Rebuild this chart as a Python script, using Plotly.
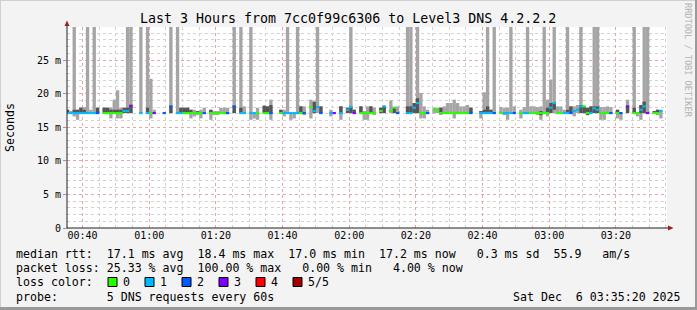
import plotly.graph_objects as go
from datetime import datetime, timedelta

N = None

# ---- data: one step per minute, first step starts 00:35 ----
start_time = datetime(2025, 12, 6, 0, 35)

# median rtt (ms) per step, None = no reply
med = [
    17.1,
    17.1, 17.1, 17.1, 17.1, 17.1, 17.1, 17.1, 17.1, 17.1, N,
    17.1, 17.1, 17.1, 17.1, 17.1, 17.1, 17.4, 17.4, 18.2, N,
    N, 17.1, N, 17.1, 17.1, 17.1, N, N, 17.1, N,
    18.1, N, 17.1, 17.1, 17.1, 17.1, 17.1, 17.1, 17.1, 17.1,
    17.1, N, 17.1, 17.1, 17.1, 17.1, 17.1, 17.1, N, 18.1,
    N, 17.1, 17.1, N, 17.1, 17.1, 17.1, N, 17.1, 17.1,
    17.1, N, N, 17.1, 17.1, 17.1, 17.1, 17.1, 17.1, 17.1,
    17.1, N, 18.0, 17.4, 18.0, 17.1, N, N, 17.1, 17.1,
    N, 17.1, N, 17.6, 18.0, 17.1, N, 17.1, 17.1, 17.1,
    17.1, 17.1, N, 17.4, 18.1, N, 17.4, 17.9, 17.1, N,
    N, 17.1, 17.1, 17.9, 18.6, 17.1, 17.1, 17.1, N, 17.6,
    17.6, 17.1, 17.1, 17.1, 17.1, 17.1, 17.1, 17.1, 17.1, 17.1,
    17.1, N, N, 17.1, 17.1, 17.1, 17.1, 17.1, N, 17.1,
    17.1, 17.1, 17.1, 17.1, N, 17.1, 17.1, 17.1, 17.1, 17.1,
    17.1, 17.1, 17.1, 17.1, 17.9, 18.6, 17.1, 17.1, 17.1, 17.1,
    17.1, 17.4, 17.6, 18.1, 18.1, 17.1, 17.1, 17.8, 17.6, 17.1,
    17.1, 17.1, 17.1, N, 17.1, 17.1, N, 18.1, N, 17.1,
    17.1, 17.6, 18.1, 17.1, N, 17.1, 17.1, 17.4, N, N,
]

# lost pings per step (of 5)
loss = [
    1,
    1, 1, 1, 1, 1, 1, 1, 1, 2, 5,
    0, 0, 0, 0, 0, 0, 1, 1, 3, 5,
    5, 1, 5, 1, 0, 3, 5, 5, 2, 5,
    2, 5, 1, 1, 0, 0, 0, 0, 0, 0,
    2, 5, 0, 0, 0, 0, 0, 2, 5, 2,
    5, 1, 1, 5, 1, 1, 0, 5, 0, 0,
    2, 5, 5, 0, 1, 1, 1, 1, 1, 0,
    2, 5, 0, 1, 1, 2, 5, 5, 1, 3,
    5, 1, 5, 1, 1, 3, 5, 0, 0, 0,
    0, 0, 5, 0, 1, 5, 0, 0, 2, 5,
    5, 1, 1, 1, 1, 0, 0, 2, 5, 0,
    0, 0, 0, 0, 0, 0, 0, 0, 0, 0,
    2, 5, 5, 1, 1, 1, 1, 2, 5, 0,
    1, 1, 1, 2, 5, 0, 1, 1, 0, 0,
    0, 0, 0, 0, 1, 1, 0, 0, 1, 1,
    2, 1, 1, 1, 0, 0, 1, 1, 1, 0,
    0, 0, 2, 5, 0, 2, 5, 3, 5, 0,
    0, 1, 1, 3, 5, 0, 0, 1, 5, 5,
]

# outer smoke (min .. max rtt, ms); 40 = beyond the top of the graph
smoke_lo = [
    17.1,
    17.1, 16.6, 16.1, 17.1, 17.1, 17.1, 17.1, 17.1, 17.1, N,
    17.1, 17.1, 16.3, 17.1, 16.3, 16.3, 17.1, 17.1, 17.1, N,
    N, 17.1, N, 17.1, 16.3, 17.1, N, N, N, N,
    17.1, N, 17.1, 17.1, 17.1, 17.1, 16.3, 16.6, 16.8, 16.3,
    17.1, N, 16.1, 16.8, 16.8, 17.1, 17.1, 17.1, N, 17.1,
    N, 17.1, 17.1, N, 16.1, 16.3, 16.1, N, 17.1, 17.1,
    16.1, N, N, 17.1, 16.6, 17.1, 16.1, 16.3, 17.1, 17.1,
    16.8, N, 16.3, 17.1, 17.1, 17.1, N, N, 16.6, N,
    N, 16.1, N, 17.1, 17.1, 17.1, N, 17.1, 16.1, 16.1,
    17.1, 16.8, N, 17.1, 17.1, N, 17.1, 17.1, 17.1, N,
    N, 17.1, 17.1, 17.1, 17.1, 16.3, 16.3, 17.1, N, 17.1,
    17.1, 16.9, 17.1, 17.1, 17.1, 16.3, 17.1, 17.1, 17.1, 17.1,
    17.1, N, N, 16.3, 17.1, 17.1, 17.1, 17.1, N, 17.1,
    16.8, 16.1, 17.1, 17.1, N, 16.3, 17.1, 17.1, 17.1, 17.1,
    16.8, 16.1, 17.1, 16.6, 17.1, 17.1, 17.1, 17.1, 17.1, 17.1,
    17.1, 16.6, 17.1, 17.1, 17.1, 16.8, 17.1, 17.1, 17.1, 16.1,
    16.1, 17.1, 17.1, N, 16.3, 16.1, N, 17.1, N, 17.1,
    16.6, 16.1, 17.1, 17.1, N, 17.1, 16.8, 16.3, N, N,
]
smoke_hi = [
    17.6,
    17.4, 40, 17.6, 17.9, 18.0, 40, 17.6, 40, 17.9, N,
    17.9, 17.9, 17.9, 19.1, 20.5, 17.9, 17.9, 40, 40, N,
    N, 40, N, 40, 22.2, 17.6, N, N, N, N,
    40, N, 40, 17.9, 17.9, 17.9, 17.6, 17.6, 17.4, 17.6,
    17.9, N, 17.6, 17.4, 17.4, 17.9, 17.9, 17.9, N, 40,
    N, 40, 18.1, N, 40, 17.1, 17.9, N, 18.2, 18.1,
    19.1, N, N, 17.6, 17.6, 40, 17.1, 17.1, 40, 18.1,
    18.1, N, 19.1, 18.8, 40, 18.1, N, N, 17.6, N,
    N, 18.1, N, 17.9, 40, 17.6, N, 18.1, 17.4, 18.1,
    18.1, 17.9, N, 17.9, 18.1, N, 19.0, 17.9, 18.1, N,
    N, 40, 40, 18.6, 40, 20.1, 18.1, 17.6, N, 17.9,
    17.9, 17.9, 18.1, 18.6, 18.6, 19.1, 18.6, 18.1, 18.1, 18.3,
    17.9, N, N, 17.4, 20.2, 40, 17.6, 40, N, 18.0,
    17.9, 17.9, 40, 18.1, N, 17.6, 18.0, 40, 18.1, 18.1,
    18.0, 18.1, 40, 19.1, 22.1, 40, 18.1, 18.1, 17.6, 40,
    18.1, 18.1, 18.3, 40, 18.1, 17.9, 18.1, 40, 40, 18.0,
    18.0, 18.1, 18.0, N, 17.6, 17.1, N, 19.1, N, 40,
    17.1, 18.3, 40, 40, N, 17.4, 17.6, 17.6, N, N,
]

# inner (dense) smoke band, ms
dense_lo = [
    17.1,
    N, 17.1, 17.1, 17.1, 17.1, N, N, N, 17.1, N,
    17.1, 17.1, 17.1, 17.1, 17.1, 17.1, 17.1, 17.1, 17.1, N,
    N, N, N, 17.1, N, N, N, N, N, N,
    17.1, N, N, 17.1, 17.1, 17.1, 17.1, N, 17.1, N,
    N, N, 17.1, N, N, N, N, N, N, 17.1,
    N, 17.1, N, N, N, N, N, N, 17.1, 17.1,
    17.1, N, N, 17.1, N, N, N, N, N, 17.1,
    N, N, N, 17.1, N, 17.1, N, N, N, N,
    N, 17.1, N, 17.1, 17.1, 17.1, N, 17.1, N, N,
    17.1, N, N, 17.1, 17.1, N, N, 17.1, N, N,
    N, 17.1, 17.1, 17.1, 17.1, N, N, N, N, N,
    N, 16.9, N, N, N, N, N, N, N, N,
    17.1, N, N, 17.1, 17.1, 17.1, 17.1, N, N, N,
    N, N, N, N, N, N, N, N, N, N,
    N, 16.8, N, 17.1, 17.1, 17.6, N, N, N, 17.1,
    17.1, N, N, 17.1, 17.1, 16.8, 17.1, 17.1, 17.1, N,
    N, N, N, N, 17.1, N, N, 17.1, N, 17.1,
    N, 17.1, 17.1, N, N, 17.1, 17.1, N, N, N,
]
dense_hi = [
    17.6,
    N, 17.6, 17.6, 17.9, 17.6, N, N, N, 17.9, N,
    17.9, 17.9, 17.6, 17.6, 17.6, 17.6, 17.9, 17.9, 18.2, N,
    N, N, N, 17.9, N, N, N, N, N, N,
    18.1, N, N, 17.9, 17.9, 17.9, 17.6, N, 17.4, N,
    N, N, 17.6, N, N, N, N, N, N, 18.1,
    N, 17.9, N, N, N, N, N, N, 18.2, 18.1,
    18.3, N, N, 17.6, N, N, N, N, N, 18.1,
    N, N, N, 18.8, N, 18.1, N, N, N, N,
    N, 18.1, N, 17.9, 18.1, 17.6, N, 18.1, N, N,
    18.1, N, N, 17.9, 18.1, N, N, 17.9, N, N,
    N, 18.1, 18.1, 18.6, 19.3, N, N, N, N, N,
    N, 17.9, N, N, N, N, N, N, N, N,
    17.9, N, N, 17.4, 17.6, 18.1, 17.6, N, N, N,
    N, N, N, N, N, N, N, N, N, N,
    N, 17.4, N, 17.9, 18.6, 18.6, N, N, N, 17.6,
    18.1, N, N, 18.3, 18.1, 17.9, 18.1, 18.1, 18.1, N,
    N, N, N, N, 17.6, N, N, 18.1, N, 17.9,
    N, 18.3, 18.8, N, N, 17.4, 17.6, N, N, N,
]

loss_labels = ["0", "1", "2", "3", "4", "5/5"]
loss_colors = ["#26ff00", "#00b8ff", "#0059ff", "#7e00ff", "#ff0000", "#a10000"]

y_tickvals = [0, 5, 10, 15, 20, 25]
y_ticktext = ["0", "5 m", "10 m", "15 m", "20 m", "25 m"]

title_text = "Last 3 Hours from 7cc0f99c6306 to Level3 DNS 4.2.2.2"
row_rtt = "median rtt:  17.1 ms avg  18.4 ms max  17.0 ms min  17.2 ms now   0.3 ms sd  55.9   am/s"
row_loss = "packet loss: 25.33 % avg  100.00 % max   0.00 % min   4.00 % now"
row_color = "loss color:"
row_probe = "probe:       5 DNS requests every 60s"
stamp = "Sat Dec  6 03:35:20 2025"

# ---- geometry helpers ----
W, H = 697, 310
L, R, T, B = 67, 30, 27, 82
PW, PH = W - L - R, H - T - B


def px(x):
    return (x - L) / PW


def py(y):
    return (H - B - y) / PH


def nb(s):
    return s.replace(" ", "\u00a0")


times = [start_time + timedelta(minutes=i) for i in range(len(med))]
STEP_MS = 60000

fig = go.Figure()


def band(lo, hi, color):
    xs, bs, hs = [], [], []
    for t, a, b in zip(times, lo, hi):
        if a is None or b is None:
            continue
        xs.append(t)
        bs.append(a)
        hs.append(max(b - a, 0.05))
    fig.add_trace(go.Bar(x=xs, y=hs, base=bs, width=STEP_MS, offset=0,
                         marker=dict(color=color, line=dict(width=0)),
                         opacity=1, hoverinfo="skip", showlegend=False))


band(smoke_lo, smoke_hi, "#a5a5a5")
band(dense_lo, dense_hi, "#545454")

mx, mb, mc = [], [], []
for t, m, l in zip(times, med, loss):
    if m is None:
        continue
    mx.append(t)
    mb.append(m - 0.16)
    mc.append(loss_colors[l])
fig.add_trace(go.Bar(x=mx, y=[0.32] * len(mx), base=mb, width=STEP_MS, offset=0,
                     marker=dict(color=mc, line=dict(width=0)), opacity=1,
                     hoverinfo="skip", showlegend=False))

mono = "DejaVu Sans Mono"

fig.update_layout(
    width=W, height=H, autosize=False,
    margin=dict(l=L, r=R, t=T, b=B, pad=0),
    paper_bgcolor="#f3f3f3", plot_bgcolor="#ffffff",
    barmode="overlay", showlegend=False,
    font=dict(family=mono, size=10, color="#000000"),
)

fig.update_xaxes(
    type="date",
    range=[datetime(2025, 12, 6, 0, 35, 20), datetime(2025, 12, 6, 3, 35, 20)],
    tick0="2025-12-06 00:40:00", dtick=20 * 60 * 1000, tickformat="%H:%M",
    showgrid=True, gridcolor="#eba3a3", griddash="dot", gridwidth=1,
    minor=dict(dtick=5 * 60 * 1000, showgrid=True, gridcolor="#d2d2d2", griddash="dot",
               ticks=""),
    ticks="", ticklabelstandoff=0,
    tickfont=dict(family=mono, size=10, color="#000000"),
    showline=False, zeroline=False, fixedrange=True,
)
fig.update_yaxes(
    range=[0, PH / 6.72],
    tickvals=y_tickvals, ticktext=y_ticktext,
    showgrid=True, gridcolor="#eba3a3", griddash="dot", gridwidth=1,
    minor=dict(dtick=1, showgrid=True, gridcolor="#d2d2d2", griddash="dot", ticks=""),
    ticks="outside", ticklen=3, tickcolor="#d08080",
    tickfont=dict(family=mono, size=10, color="#000000"),
    showline=False, zeroline=False, fixedrange=True,
)

shapes = []
# frame
shapes.append(dict(type="line", xref="paper", yref="paper", x0=px(0), x1=px(W), y0=py(0.5), y1=py(0.5),
                   line=dict(color="#cfcfcf", width=1)))
shapes.append(dict(type="line", xref="paper", yref="paper", x0=px(0.5), x1=px(0.5), y0=py(0), y1=py(H),
                   line=dict(color="#cfcfcf", width=1)))
shapes.append(dict(type="line", xref="paper", yref="paper", x0=px(0), x1=px(W), y0=py(H - 1.5), y1=py(H - 1.5),
                   line=dict(color="#9a9a9a", width=3)))
shapes.append(dict(type="line", xref="paper", yref="paper", x0=px(W - 1), x1=px(W - 1), y0=py(0), y1=py(H),
                   line=dict(color="#9a9a9a", width=2)))
# axes
shapes.append(dict(type="line", xref="paper", yref="paper", x0=px(67), x1=px(67), y0=py(228.5), y1=py(24),
                   line=dict(color="#202020", width=1)))
shapes.append(dict(type="line", xref="paper", yref="paper", x0=px(66.5), x1=px(670), y0=py(228), y1=py(228),
                   line=dict(color="#202020", width=1)))
shapes.append(dict(type="path", xref="paper", yref="paper",
                   path=f"M {px(64.5)},{py(26)} L {px(69.5)},{py(26)} L {px(67)},{py(20.5)} Z",
                   fillcolor="#992222", line=dict(width=0)))
shapes.append(dict(type="path", xref="paper", yref="paper",
                   path=f"M {px(668)},{py(225.5)} L {px(668)},{py(230.5)} L {px(673.5)},{py(228)} Z",
                   fillcolor="#992222", line=dict(width=0)))

# loss color boxes
box_x0 = [108, 145, 182, 219, 256, 293]
for bx, col in zip(box_x0, loss_colors):
    shapes.append(dict(type="rect", xref="paper", yref="paper",
                       x0=px(bx), x1=px(bx + 9), y0=py(286.5), y1=py(277.5),
                       fillcolor=col, line=dict(color="#000000", width=1)))

ann = []


def text(x, y, s, size=11.6, anchor="left", color="#000000", angle=0):
    ann.append(dict(xref="paper", yref="paper", x=px(x), y=py(y), text=nb(s), showarrow=False,
                    xanchor=anchor, yanchor="middle", textangle=angle,
                    borderpad=0, borderwidth=0,
                    font=dict(family=mono, size=size, color=color)))


text(348, 19, title_text, size=13.3, anchor="center")
text(10, 128, "Seconds", size=11.6, anchor="center", angle=-90)
text(688, 60, "RRDTOOL / TOBI OETIKER", size=8.6, anchor="center", color="#b4b4b4", angle=90)
text(16, 254, row_rtt)
text(16, 268, row_loss)
text(16, 282, row_color)
for bx, lab in zip(box_x0, loss_labels):
    text(bx + 15, 282, lab)
text(16, 297, row_probe)
text(681, 297, stamp, anchor="right")

fig.update_layout(shapes=shapes, annotations=ann)

fig.write_html("out.html", config={"displayModeBar": False, "staticPlot": True})
